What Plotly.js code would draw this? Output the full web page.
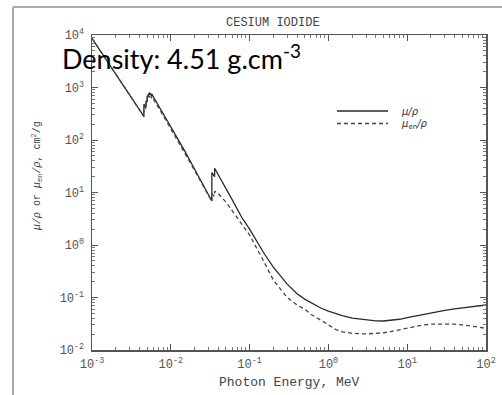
<!DOCTYPE html>
<html>
<head>
<meta charset="utf-8">
<script src="https://cdn.plot.ly/plotly-3.0.1.min.js"></script>
<style>
html,body{margin:0;padding:0;background:#fff;}
#chart{width:502px;height:395px;}
</style>
</head>
<body>
<div id="chart"></div>
<script>
// Photon energy, MeV (repeated energies mark absorption edges)
var energy = [0.001, 0.0015, 0.002, 0.003, 0.004, 0.004557, 0.004557, 0.004852, 0.004852,
  0.005012, 0.005012, 0.005188, 0.005188, 0.005359, 0.005359, 0.005714, 0.005714, 0.006,
  0.008, 0.01, 0.0131, 0.015, 0.02, 0.03, 0.03317, 0.03317, 0.03598, 0.03598, 0.04, 0.05,
  0.06, 0.08, 0.1, 0.15, 0.2, 0.3, 0.4, 0.5, 0.6, 0.8, 1, 1.25, 1.5, 2, 3, 4, 5, 6, 8, 10,
  15, 20, 30, 40, 50, 60, 80, 100];
// mu/rho, cm2/g
var muRho = [8650, 3460, 1810, 723, 378, 281, 480, 420, 560, 530, 700, 660, 760, 720, 800,
  690, 760, 670, 317, 177, 88, 62, 28, 9.1, 6.9, 24, 20, 29, 22, 12, 7.3, 3.3, 2.0, 0.72,
  0.38, 0.18, 0.118, 0.093, 0.079, 0.063, 0.055, 0.049, 0.045, 0.0405, 0.037, 0.0358,
  0.0357, 0.0363, 0.0385, 0.0415, 0.047, 0.051, 0.057, 0.061, 0.0635, 0.066, 0.0695, 0.072];
// mu_en/rho, cm2/g
var muEnRho = [8610, 3440, 1800, 718, 375, 279, 455, 398, 520, 492, 640, 605, 690, 655, 720,
  625, 680, 610, 292, 164, 82, 58, 26.5, 8.8, 6.7, 9.5, 8.4, 10.6, 9.5, 6.6, 4.5, 2.36, 1.55,
  0.50, 0.215, 0.100, 0.072, 0.060, 0.048, 0.037, 0.030, 0.0245, 0.0222, 0.0208, 0.0202,
  0.0205, 0.0213, 0.0222, 0.0243, 0.0262, 0.0295, 0.0310, 0.0316, 0.0310, 0.0302, 0.0292,
  0.0274, 0.0259];

var xTickVals = [0.001, 0.01, 0.1, 1, 10, 100];
var xTickText = ['10<sup>-3</sup>', '10<sup>-2</sup>', '10<sup>-1</sup>', '10<sup>0</sup>', '10<sup>1</sup>', '10<sup>2</sup>'];
var yTickVals = [0.01, 0.1, 1, 10, 100, 1000, 10000];
var yTickText = ['10<sup>-2</sup>', '10<sup>-1</sup>', '10<sup>0</sup>', '10<sup>1</sup>', '10<sup>2</sup>', '10<sup>3</sup>', '10<sup>4</sup>'];

var seriesNames = ['<i>μ/ρ</i>', '<i>μ</i><sub>en</sub><i>/ρ</i>'];

var lineCol = '#2a2a2a';
var axisFont = {family: 'Liberation Mono, DejaVu Sans Mono, monospace', size: 12, color: '#555'};

var traces = [
  {x: energy, y: muRho, type: 'scatter', mode: 'lines', name: seriesNames[0], showlegend: false,
   line: {color: lineCol, width: 1.3}},
  {x: energy, y: muEnRho, type: 'scatter', mode: 'lines', name: seriesNames[1], showlegend: false,
   line: {color: '#444', width: 1.3, dash: '4px,3px'}}
];

var axBase = {
  type: 'log', showgrid: false, zeroline: false, showline: true, linecolor: '#555', linewidth: 1.5,
  mirror: 'ticks', ticks: 'inside', ticklen: 6, tickcolor: '#555', tickwidth: 1,
  tickfont: axisFont, tickmode: 'array',
  minor: {dtick: 'D1', ticks: 'inside', ticklen: 3, tickcolor: '#777', tickwidth: 1, showgrid: false}
};

var xaxis = Object.assign({}, axBase, {range: [-3, 2], tickvals: xTickVals, ticktext: xTickText, ticklabelstandoff: 2});
var yaxis = Object.assign({}, axBase, {range: [-2, 4], tickvals: yTickVals, ticktext: yTickText, ticklabelstandoff: 4});

var PL = 92, PR = 486, PT = 35, PB = 350;
function px(x){ return (x - PL) / (PR - PL); }
function py(y){ return (PB - y) / (PB - PT); }

var layout = {
  width: 502, height: 395,
  margin: {l: PL, r: 502 - PR, t: PT, b: 395 - PB},
  paper_bgcolor: '#fff', plot_bgcolor: '#fff',
  xaxis: xaxis, yaxis: yaxis,
  showlegend: false,
  shapes: [
    {type: 'line', xref: 'paper', yref: 'paper', x0: px(13), x1: px(13), y0: py(400), y1: py(7),
     line: {color: '#aaa', width: 2}},
    {type: 'line', xref: 'paper', yref: 'paper', x0: px(13), x1: px(505), y0: py(7), y1: py(7),
     line: {color: '#aaa', width: 2}},
    {type: 'line', xref: 'paper', yref: 'paper', x0: px(337), x1: px(388), y0: py(111), y1: py(111),
     line: {color: lineCol, width: 1.3}},
    {type: 'line', xref: 'paper', yref: 'paper', x0: px(337), x1: px(388), y0: py(123.5), y1: py(123.5),
     line: {color: '#444', width: 1.3, dash: '4px,3px'}}
  ],
  annotations: [
    {text: 'CESIUM IODIDE', xref: 'paper', yref: 'paper', x: px(273), y: py(23), showarrow: false,
     xanchor: 'center', yanchor: 'middle', font: {family: 'Liberation Mono, DejaVu Sans Mono, monospace', size: 12, color: '#444'}},
    {text: 'Photon Energy, MeV', xref: 'paper', yref: 'paper', x: px(289), y: py(382), showarrow: false,
     xanchor: 'center', yanchor: 'middle', font: {family: 'Liberation Mono, DejaVu Sans Mono, monospace', size: 13, color: '#444'}},
    {text: '<i>μ/ρ</i> or <i>μ</i><sub>en</sub><i>/ρ</i>, cm<sup>2</sup>/g', xref: 'paper', yref: 'paper',
     x: px(37), y: py(176), showarrow: false, textangle: -90, xanchor: 'center', yanchor: 'middle',
     font: {family: 'Liberation Mono, DejaVu Sans Mono, monospace', size: 10, color: '#444'}},
    {text: seriesNames[0], xref: 'paper', yref: 'paper', x: px(399), y: py(111), showarrow: false,
     xanchor: 'left', yanchor: 'middle', font: {family: 'DejaVu Sans, sans-serif', size: 10, color: '#333'}},
    {text: seriesNames[1], xref: 'paper', yref: 'paper', x: px(399), y: py(124), showarrow: false,
     xanchor: 'left', yanchor: 'middle', font: {family: 'DejaVu Sans, sans-serif', size: 10, color: '#333'}},
    {text: 'Density: 4.51 g.cm<sup>-3</sup>', xref: 'paper', yref: 'paper', x: px(60), y: py(57), showarrow: false,
     xanchor: 'left', yanchor: 'middle', font: {family: 'Lato, sans-serif', size: 27, color: '#000'}}
  ]
};

Plotly.newPlot('chart', traces, layout, {displayModeBar: false, staticPlot: true});
</script>
</body>
</html>
